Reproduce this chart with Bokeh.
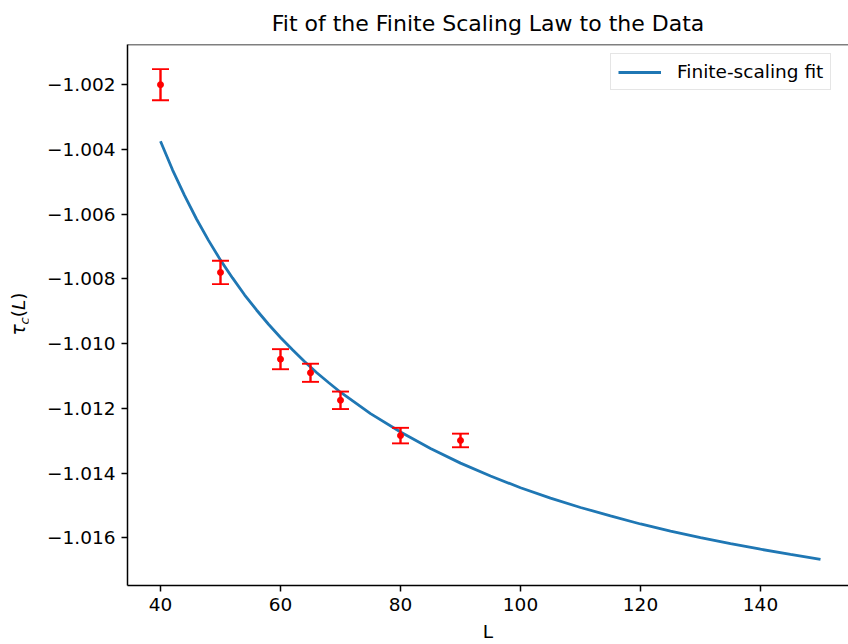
from bokeh.plotting import figure
from bokeh.models import Range1d, Legend, LegendItem, FixedTicker, CustomJSTickFormatter, Span, Div
from bokeh.layouts import row
from bokeh.embed import file_html
from bokeh.resources import INLINE

# ---- data ----
L_data = [40, 50, 60, 65, 70, 80, 90]
tau_data = [-1.00200, -1.00780, -1.01048, -1.01090, -1.01175, -1.01284, -1.01299]
tau_err = [0.00048, 0.00036, 0.00031, 0.00028, 0.00027, 0.00024, 0.00021]

L_fit = [40, 42, 44, 46, 48, 50, 52, 54, 56, 58, 60, 62, 64, 66, 68, 70, 75, 80,
         85, 90, 95, 100, 105, 110, 115, 120, 125, 130, 135, 140, 145, 150]
tau_fit = [-1.00375, -1.00463, -1.00542, -1.00615, -1.00681, -1.00742, -1.00797,
           -1.00849, -1.00896, -1.00940, -1.00981, -1.01019, -1.01055, -1.01089,
           -1.01120, -1.01150, -1.01216, -1.01273, -1.01324, -1.01369, -1.01409,
           -1.01445, -1.01477, -1.01506, -1.01532, -1.01557, -1.01579, -1.01599,
           -1.01618, -1.01635, -1.01651, -1.01666]

x_ticks = [40, 60, 80, 100, 120, 140]
y_ticks = [-1.016, -1.014, -1.012, -1.010, -1.008, -1.006, -1.004, -1.002]

title_text = "Fit of the Finite Scaling Law to the Data"
x_label = "L"
legend_label = "Finite-scaling fit"

# ---- layout ----
W, H = 848, 644
DIV_W = 28
FL, FT, FB = 127, 43, 585
PX_PER_X = 6.0
x0 = 34.5
x1 = x0 + (W - FL) / PX_PER_X
y0, y1 = -1.01747, -1.00076

FONT = "DejaVu Sans"
FS = "18.5px"

p = figure(width=W - DIV_W, height=H, output_backend="svg", toolbar_location=None,
           x_range=Range1d(x0, x1), y_range=Range1d(y0, y1),
           min_border_left=FL - DIV_W, min_border_right=0, min_border_top=FT,
           min_border_bottom=H - FB, title=title_text)
p.margin = 0
p.outline_line_color = None
p.xgrid.visible = False
p.ygrid.visible = False
p.background_fill_color = "white"
p.border_fill_color = "white"

p.title.text_font = FONT
p.title.text_font_size = "22px"
p.title.text_font_style = "normal"
p.title.text_color = "black"
p.title.align = "center"
p.title.standoff = 17

for ax in (p.xaxis[0], p.yaxis[0]):
    ax.axis_line_width = 1.5
    ax.axis_line_color = "black"
    ax.major_tick_line_width = 1.5
    ax.major_tick_line_color = "black"
    ax.major_tick_out = 6
    ax.major_tick_in = 0
    ax.minor_tick_out = 0
    ax.minor_tick_in = 0
    ax.major_label_text_font = FONT
    ax.major_label_text_font_size = FS
    ax.major_label_text_color = "black"
    ax.major_label_standoff = 6

p.xaxis[0].ticker = FixedTicker(ticks=x_ticks)
p.yaxis[0].ticker = FixedTicker(ticks=y_ticks)
p.yaxis[0].formatter = CustomJSTickFormatter(
    code="return (tick < 0 ? '\u2212' : '') + Math.abs(tick).toFixed(3);")

p.xaxis[0].axis_label = x_label
p.xaxis[0].axis_label_text_font = FONT
p.xaxis[0].axis_label_text_font_size = FS
p.xaxis[0].axis_label_text_font_style = "normal"
p.xaxis[0].axis_label_text_color = "black"
p.xaxis[0].axis_label_standoff = 7

p.add_layout(Span(location=y1, dimension="width", line_color="black", line_width=1.5))

# fit curve
fit = p.line(L_fit, tau_fit, line_color="#1f77b4", line_width=2.8)

# error bars
upper = [t + e for t, e in zip(tau_data, tau_err)]
lower = [t - e for t, e in zip(tau_data, tau_err)]
p.segment(x0=L_data, y0=lower, x1=L_data, y1=upper, line_color="red", line_width=2.4)
p.scatter(L_data, upper, marker="dash", size=17, line_color="red", line_width=1.9)
p.scatter(L_data, lower, marker="dash", size=17, line_color="red", line_width=1.9)
p.scatter(L_data, tau_data, size=6, fill_color="red", line_color="red")

# legend
legend = Legend(items=[LegendItem(label=legend_label, renderers=[fit])],
                location=(483, 495))
legend.label_text_font = FONT
legend.label_text_font_size = FS
legend.label_text_color = "black"
legend.glyph_width = 43
legend.glyph_height = 20
legend.label_height = 20
legend.label_standoff = 16
legend.padding = 7
legend.spacing = 0
legend.margin = 0
legend.border_line_color = "#cccccc"
legend.border_line_width = 1
legend.background_fill_alpha = 0.8
p.add_layout(legend)

# y label: tau_c(L) as rotated HTML text in a narrow column left of the plot
ylabel_html = (
    '<div style="position:absolute; left:20px; top:314px; '
    'transform: translate(-50%, -50%) rotate(-90deg); white-space:nowrap; '
    "font-family:'DejaVu Sans'; font-size:18.5px; line-height:1; color:black;\">"
    '<i>\u03c4</i><sub style="font-size:13px; line-height:1; vertical-align:-4px;"><i>c</i></sub>'
    '(<i>L</i>)</div>'
)
ylab = Div(text=ylabel_html, width=DIV_W, height=H, margin=0,
           styles={"position": "relative", "background": "white", "overflow": "visible"})

layout = row(ylab, p, spacing=0, margin=0)
open("out.html", "w").write(file_html(layout, INLINE))
